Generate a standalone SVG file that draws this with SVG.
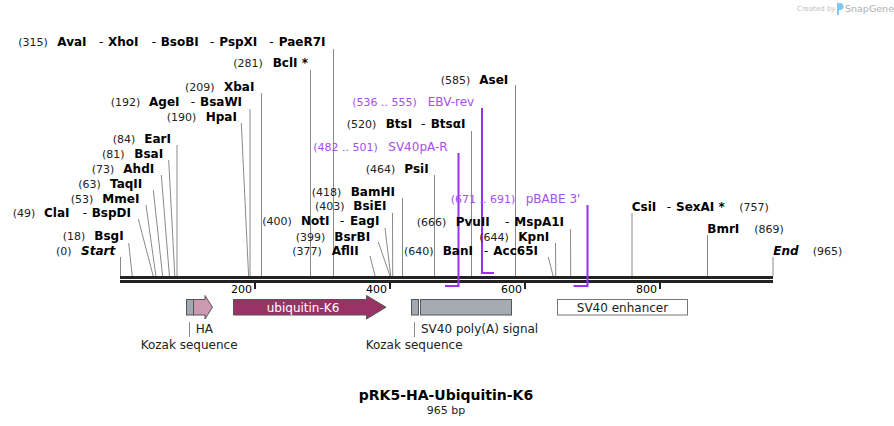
<svg xmlns="http://www.w3.org/2000/svg" width="894" height="426" viewBox="0 0 894 426">
<style>
text{font-family:"DejaVu Sans","Verdana",sans-serif}
.n{font-size:11px;fill:#222}
.e{font-size:12px;font-weight:bold;fill:#000}
.d{font-size:12px;fill:#000}
.i{font-size:12px;font-weight:bold;font-style:italic;fill:#000}
.pn{font-size:11px;fill:#a64ef0}
.pl{font-size:12px;fill:#a64ef0}
.f{font-size:12px;fill:#222}
.t{font-size:11px;fill:#000}
.cut{stroke:#8a8a8a;stroke-width:1;fill:none}
.pr{stroke:#9b30f0;stroke-width:2;fill:none}
.bx{stroke:#555;stroke-width:1}
</style>
<rect width="894" height="426" fill="#fff"/>
<g id="watermark">
<text x="797" y="11" style="font-size:7px;fill:#c0c0c0">Created by</text>
<path d="M837,3 h3 a3,3 0 0 1 0,7 h-1 v5 h-2 z" fill="#7ec8f0"/>
<text x="845" y="12" style="font-size:9.5px;fill:#b0b0b0">SnapGene</text>
</g>
<g id="backbone">
<rect x="120" y="276" width="653" height="3" fill="#222"/>
<rect x="120" y="280" width="653" height="3" fill="#222"/>
<rect x="254" y="283" width="2" height="6" fill="#222"/>
<rect x="389" y="283" width="2" height="6" fill="#222"/>
<rect x="524" y="283" width="2" height="6" fill="#222"/>
<rect x="659" y="283" width="2" height="6" fill="#222"/>
<text class="t" x="252" y="293" text-anchor="end">200</text>
<text class="t" x="387" y="293" text-anchor="end">400</text>
<text class="t" x="522" y="293" text-anchor="end">600</text>
<text class="t" x="657" y="293" text-anchor="end">800</text>
</g>
<g id="connectors">
<line class="cut" x1="120.5" y1="257" x2="120.5" y2="276"/>
<line class="cut" x1="128.7" y1="243" x2="132.2" y2="276"/>
<line class="cut" x1="138.3" y1="219" x2="153.2" y2="276"/>
<line class="cut" x1="146" y1="205" x2="155.9" y2="276"/>
<line class="cut" x1="153.3" y1="190" x2="162.6" y2="276"/>
<line class="cut" x1="161.3" y1="175" x2="169.4" y2="276"/>
<line class="cut" x1="168.7" y1="160" x2="174.8" y2="276"/>
<line class="cut" x1="177" y1="145" x2="177" y2="276"/>
<line class="cut" x1="241.3" y1="123" x2="248.6" y2="276"/>
<line class="cut" x1="250" y1="109" x2="250" y2="276"/>
<line class="cut" x1="261.5" y1="93" x2="261.5" y2="276"/>
<line class="cut" x1="310.5" y1="70" x2="310.5" y2="276"/>
<line class="cut" x1="333.5" y1="49" x2="333.5" y2="276"/>
<line class="cut" x1="370" y1="256" x2="375.1" y2="276"/>
<line class="cut" x1="378.3" y1="242" x2="390" y2="276"/>
<line class="cut" x1="385" y1="228" x2="390.7" y2="276"/>
<line class="cut" x1="392.5" y1="213" x2="392.7" y2="276"/>
<line class="cut" x1="402.5" y1="198" x2="402.5" y2="276"/>
<line class="cut" x1="434.5" y1="175" x2="434.5" y2="276"/>
<line class="cut" x1="471.5" y1="131" x2="471.5" y2="276"/>
<line class="cut" x1="515.5" y1="85" x2="515.5" y2="276"/>
<line class="cut" x1="548.3" y1="257" x2="553.1" y2="276"/>
<line class="cut" x1="555.5" y1="243" x2="555.8" y2="276"/>
<line class="cut" x1="570.5" y1="229" x2="570.7" y2="276"/>
<line class="cut" x1="632" y1="213" x2="632" y2="276"/>
<line class="cut" x1="707.5" y1="235" x2="707.5" y2="276"/>
<line class="cut" x1="773" y1="257" x2="773" y2="276"/>
<polyline class="pr" points="458.5,153 458.5,286 445,286"/>
<polyline class="pr" points="482,108 482,273 494,273"/>
<polyline class="pr" points="587.5,205 587.5,286 573.5,286"/>
<line class="cut" x1="189.5" y1="322" x2="189.5" y2="337"/>
<line class="cut" x1="414.5" y1="322" x2="414.5" y2="337"/>
</g>
<g id="site-AvaI">
<text class="n" x="18.3" y="46">(315)</text>
<text class="e" x="57.3" y="46">AvaI</text>
<text class="d" x="99" y="46">-</text><text class="e" x="108" y="46">XhoI</text>
<text class="d" x="151.7" y="46">-</text><text class="e" x="160.7" y="46">BsoBI</text>
<text class="d" x="210" y="46">-</text><text class="e" x="219.3" y="46">PspXI</text>
<text class="d" x="269.3" y="46">-</text><text class="e" x="278.7" y="46">PaeR7I</text>
</g>
<g id="site-BclI"><text class="n" x="233.3" y="67">(281)</text><text class="e" x="272.7" y="67">BclI *</text></g>
<g id="site-XbaI"><text class="n" x="185" y="91">(209)</text><text class="e" x="224" y="91">XbaI</text></g>
<g id="site-AgeI"><text class="n" x="110.7" y="106">(192)</text><text class="e" x="149" y="106">AgeI</text><text class="d" x="190.7" y="106">-</text><text class="e" x="200" y="106">BsaWI</text></g>
<g id="site-HpaI"><text class="n" x="166.7" y="121">(190)</text><text class="e" x="205.7" y="121">HpaI</text></g>
<g id="site-EarI"><text class="n" x="112.7" y="143">(84)</text><text class="e" x="144.3" y="143">EarI</text></g>
<g id="site-BsaI"><text class="n" x="102" y="158">(81)</text><text class="e" x="134.3" y="158">BsaI</text></g>
<g id="site-AhdI"><text class="n" x="91.7" y="173">(73)</text><text class="e" x="123.3" y="173">AhdI</text></g>
<g id="site-TaqII"><text class="n" x="78.3" y="187.5">(63)</text><text class="e" x="110" y="187.5">TaqII</text></g>
<g id="site-MmeI"><text class="n" x="70.7" y="202.5">(53)</text><text class="e" x="102.3" y="202.5">MmeI</text></g>
<g id="site-ClaI"><text class="n" x="12.7" y="217">(49)</text><text class="e" x="44" y="217">ClaI</text><text class="d" x="82.7" y="217">-</text><text class="e" x="91.7" y="217">BspDI</text></g>
<g id="site-BsgI"><text class="n" x="62.7" y="240">(18)</text><text class="e" x="94.3" y="240">BsgI</text></g>
<g id="site-Start"><text class="n" x="56" y="255">(0)</text><text class="i" x="81" y="255">Start</text></g>
<g id="site-BamHI"><text class="n" x="311.7" y="196">(418)</text><text class="e" x="350.7" y="196">BamHI</text></g>
<g id="site-BsiEI"><text class="n" x="315" y="210">(403)</text><text class="e" x="353.3" y="210">BsiEI</text></g>
<g id="site-NotI"><text class="n" x="262.3" y="225">(400)</text><text class="e" x="301" y="225">NotI</text><text class="d" x="340" y="225">-</text><text class="e" x="350" y="225">EagI</text></g>
<g id="site-BsrBI"><text class="n" x="295.7" y="240.5">(399)</text><text class="e" x="334.3" y="240.5">BsrBI</text></g>
<g id="site-AflII"><text class="n" x="292.3" y="255">(377)</text><text class="e" x="331.7" y="255">AflII</text></g>
<g id="site-PsiI"><text class="n" x="365.7" y="172.5">(464)</text><text class="e" x="404.3" y="172.5">PsiI</text></g>
<g id="primer-SV40pA-R"><text class="pn" x="313.3" y="150.5">(482 .. 501)</text><text class="pl" x="388.3" y="150.5">SV40pA-R</text></g>
<g id="site-BtsI"><text class="n" x="346.7" y="128">(520)</text><text class="e" x="385.7" y="128">BtsI</text><text class="d" x="421" y="128">-</text><text class="e" x="430.7" y="128">BtsαI</text></g>
<g id="primer-EBV-rev"><text class="pn" x="352.3" y="106">(536 .. 555)</text><text class="pl" x="427.7" y="106">EBV-rev</text></g>
<g id="site-AseI"><text class="n" x="440.7" y="83.5">(585)</text><text class="e" x="479.3" y="83.5">AseI</text></g>
<g id="primer-pBABE"><text class="pn" x="450.7" y="202.5">(671 .. 691)</text><text class="pl" x="525.7" y="202.5">pBABE 3'</text></g>
<g id="site-PvuII"><text class="n" x="416.7" y="225.5">(666)</text><text class="e" x="455.7" y="225.5">PvuII</text><text class="d" x="505" y="225.5">-</text><text class="e" x="514.3" y="225.5">MspA1I</text></g>
<g id="site-KpnI"><text class="n" x="479.3" y="240.5">(644)</text><text class="e" x="518.3" y="240.5">KpnI</text></g>
<g id="site-BanI"><text class="n" x="404" y="255">(640)</text><text class="e" x="442.7" y="255">BanI</text><text class="d" x="484" y="255">-</text><text class="e" x="493.3" y="255">Acc65I</text></g>
<g id="site-CsiI"><text class="e" x="631.7" y="210.5">CsiI</text><text class="d" x="666.7" y="210.5">-</text><text class="e" x="676" y="210.5">SexAI *</text><text class="n" x="739.3" y="210.5">(757)</text></g>
<g id="site-BmrI"><text class="e" x="707.3" y="232.7">BmrI</text><text class="n" x="754.3" y="232.7">(869)</text></g>
<g id="site-End"><text class="i" x="773.3" y="255">End</text><text class="n" x="812.7" y="255">(965)</text></g>
<g id="feature-kozak1"><rect class="bx" x="186.5" y="299.5" width="7" height="15.5" fill="#a3a9b0"/></g>
<g id="feature-HA"><path class="bx" d="M193.5,299.5 H205 V295.5 L212.5,307.2 L205,319 V315 H193.5 Z" fill="#cc99b3"/></g>
<g id="feature-ubiquitin"><path class="bx" d="M233.5,299.5 H366.5 V295.5 L386,307.2 L366.5,319 V315 H233.5 Z" fill="#993366"/>
<text x="303" y="311.5" text-anchor="middle" style="font-size:12px;fill:#fff">ubiquitin-K6</text></g>
<g id="feature-kozak2"><rect class="bx" x="411.5" y="299.5" width="7" height="15.5" fill="#a3a9b0"/></g>
<g id="feature-SV40pA"><rect class="bx" x="420.5" y="299.5" width="91" height="15.5" fill="#a5abb2"/></g>
<g id="feature-SV40enh"><rect x="557.5" y="299.5" width="130" height="15.5" fill="#fff" stroke="#777"/>
<text class="f" x="622.5" y="311.5" text-anchor="middle">SV40 enhancer</text></g>
<g id="feature-labels">
<text class="f" x="195.7" y="333">HA</text>
<text class="f" x="140.7" y="348.5">Kozak sequence</text>
<text class="f" x="421" y="333">SV40 poly(A) signal</text>
<text class="f" x="365.7" y="348.5">Kozak sequence</text>
</g>
<g id="title">
<text x="446" y="400" text-anchor="middle" style="font-size:14px;font-weight:bold;fill:#000">pRK5-HA-Ubiquitin-K6</text>
<text x="446" y="413.5" text-anchor="middle" style="font-size:11px;fill:#222">965 bp</text>
</g>
</svg>
